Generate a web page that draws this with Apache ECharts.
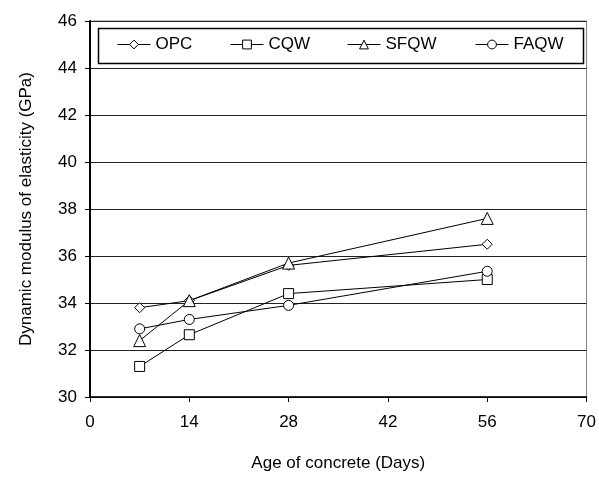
<!DOCTYPE html>
<html><head><meta charset="utf-8">
<script src="https://cdn.jsdelivr.net/npm/echarts@6/dist/echarts.min.js"></script>
<style>html,body{margin:0;padding:0;background:#fff}#c{width:599px;height:477px}</style>
</head><body><div id="c"></div>
<script>
const ages = [7, 14, 28, 56];
const seriesNames = ['OPC', 'CQW', 'SFQW', 'FAQW'];
const opc  = [33.8, 34.1, 35.6, 36.5];
const cqw  = [31.3, 32.65, 34.4, 35.0];
const sfqw = [32.4, 34.1, 35.7, 37.6];
const faqw = [32.9, 33.3, 33.9, 35.35];
const xTicks = [0, 14, 28, 42, 56, 70];
const yTicks = [30, 32, 34, 36, 38, 40, 42, 44, 46];

const symbols = ['diamond', 'rect', 'triangle', 'circle'];
const sizes = [10, 10, 12, 10];
const values = [opc, cqw, sfqw, faqw];
const legendLeft = [117, 230, 347, 475];
const font = 'Liberation Sans, Arial, sans-serif';

const chart = echarts.init(document.getElementById('c'), null, {renderer: 'canvas'});
chart.setOption({
  animation: false,
  backgroundColor: '#fff',
  grid: {left: 90, right: 9, top: 21, bottom: 77, show: true, borderColor: '#808080', borderWidth: 1},
  graphic: [{
    type: 'rect', z: 3,
    shape: {x: 98.5, y: 28.5, width: 485, height: 35},
    style: {fill: '#fff', stroke: '#000', lineWidth: 1.5}
  }],
  legend: seriesNames.map((n, i) => ({
    left: legendLeft[i], top: 36, padding: 0,
    itemWidth: 33, itemHeight: 11,
    z: 10,
    lineStyle: {width: 1, color: '#000'},
    itemStyle: {color: '#fff', borderColor: '#000', borderWidth: 1},
    textStyle: {fontFamily: font, fontSize: 17, color: '#000'},
    data: [n]
  })),
  xAxis: {
    type: 'value', min: xTicks[0], max: xTicks[xTicks.length - 1], interval: 14,
    name: 'Age of concrete (Days)', nameLocation: 'middle', nameGap: 58,
    nameTextStyle: {fontFamily: font, fontSize: 17, color: '#000'},
    axisLine: {show: true, lineStyle: {color: '#000', width: 1.5}},
    axisTick: {show: true, length: 5, lineStyle: {color: '#000'}},
    axisLabel: {fontFamily: font, fontSize: 17, color: '#000', margin: 17},
    splitLine: {show: false}
  },
  yAxis: {
    type: 'value', min: yTicks[0], max: yTicks[yTicks.length - 1], interval: 2,
    name: 'Dynamic modulus of elasticity (GPa)', nameLocation: 'middle', nameGap: 55,
    nameTextStyle: {fontFamily: font, fontSize: 17, color: '#000'},
    axisLine: {show: true, lineStyle: {color: '#000', width: 2}},
    axisTick: {show: true, length: 5, lineStyle: {color: '#000'}},
    axisLabel: {fontFamily: font, fontSize: 17, color: '#000', margin: 13},
    splitLine: {show: true, lineStyle: {color: '#222', width: 1}}
  },
  series: seriesNames.map((n, i) => ({
    name: n, type: 'line',
    data: ages.map((a, j) => [a, values[i][j]]),
    symbol: symbols[i], symbolSize: sizes[i],
    showSymbol: true,
    lineStyle: {color: '#000', width: 1},
    itemStyle: {color: '#fff', borderColor: '#000', borderWidth: 1},
    z: 3
  }))
});
</script></body></html>
